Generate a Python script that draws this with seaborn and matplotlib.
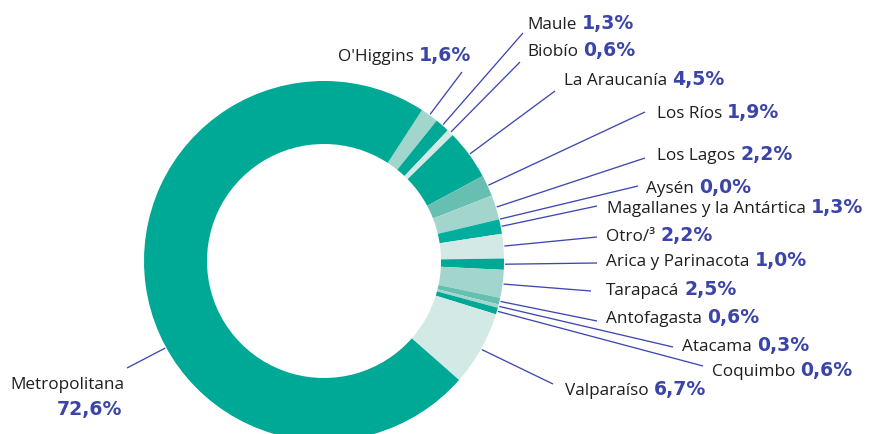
import numpy as np
import matplotlib
matplotlib.use("Agg")
import matplotlib.pyplot as plt
import seaborn as sns

# Share of the total by region (%), listed clockwise from the top of the ring
regions = ["O'Higgins", "Maule", "Biobío", "La Araucanía", "Los Ríos", "Los Lagos",
           "Aysén", "Magallanes y la Antártica", "Otro/³", "Arica y Parinacota",
           "Tarapacá", "Antofagasta", "Atacama", "Coquimbo", "Valparaíso",
           "Metropolitana"]
shares = [1.6, 1.3, 0.6, 4.5, 1.9, 2.2, 0.0, 1.3, 2.2, 1.0, 2.5, 0.6, 0.3, 0.6, 6.7, 72.6]

# Wedge tone per region
TEAL, MID, LIGHT, PALE = "#00A896", "#66BFB0", "#A2D5CB", "#D3E9E5"
tones = [LIGHT, TEAL, PALE, TEAL, MID, LIGHT, LIGHT, "#00AE9D", PALE, TEAL,
         LIGHT, MID, LIGHT, TEAL, PALE, TEAL]

sns.set_style("white")
plt.rcParams["font.family"] = ["Open Sans", "DejaVu Sans"]

W, H = 869, 435
fig = plt.figure(figsize=(W / 100, H / 100), dpi=100)
ax = fig.add_axes([0, 0, 1, 1])

CX, CY, R, RING = 324, H - 262, 180, 63
palette = sns.color_palette(tones)
wedges, _ = ax.pie(shares, colors=palette, startangle=57, counterclock=False,
                   center=(CX, CY), radius=R,
                   wedgeprops=dict(width=RING, linewidth=0))
ax.set_xlim(0, W)
ax.set_ylim(0, H)
ax.set_aspect("equal")
ax.axis("off")

# Label layout: leader-line end point and text baseline (pixels from top-left),
# plus where along its wedge (clockwise, 0 = start, 1 = end) each leader is anchored
line_ends = [(462, 73), (523, 34), (520, 63), (555, 92), (645, 113), (645, 159),
             (638, 187), (597, 207), (597, 238), (597, 264), (591, 292), (597, 322),
             (673, 348), (703, 367), (553, 385), (127, 369)]
text_pos = [(338, 61), (527, 29), (527, 56), (564, 85), (657, 118), (657, 160),
            (646, 193), (607, 213), (606, 241), (606, 266), (606, 295), (606, 323),
            (682, 351), (712, 376), (565, 395), (10, 389)]
anchor = [0.5] * 15 + [0.42]

LINE_C = "#3F48B0"
VAL_C = "#3B44A8"
NAME_C = "#1E1E1E"
NAME_FS, VAL_FS = 12.3, 13.6
VAL_FONT = ["DejaVu Sans"]

fig.canvas.draw()
renderer = fig.canvas.get_renderer()
inv = ax.transData.inverted()

for w, name, v, (ex, ey), (tx, ty), f in zip(wedges, regions, shares,
                                             line_ends, text_pos, anchor):
    # wedges run clockwise, so the wedge starts at theta2 and ends at theta1
    ang = np.deg2rad(w.theta2 - f * (w.theta2 - w.theta1))
    sx = CX + (R + 1) * np.cos(ang)
    sy = CY + (R + 1) * np.sin(ang)
    ax.plot([sx, ex], [sy, H - ey], color=LINE_C, lw=0.95, solid_capstyle="butt")

    value = f"{v:.1f}".replace(".", ",") + "%"
    t = ax.text(tx, H - ty, name, color=NAME_C, fontsize=NAME_FS,
                ha="left", va="baseline")
    bb = t.get_window_extent(renderer)
    right = inv.transform((bb.x1, bb.y0))[0]
    if name == "Metropolitana":
        ax.text(right - 2, H - 415, value, color=VAL_C, fontsize=VAL_FS,
                family=VAL_FONT, fontweight="bold", ha="right", va="baseline")
    else:
        ax.text(right + 5, H - ty, value, color=VAL_C, fontsize=VAL_FS,
                family=VAL_FONT, fontweight="bold", ha="left", va="baseline")

fig.savefig("out.png", dpi=100, facecolor="white")
